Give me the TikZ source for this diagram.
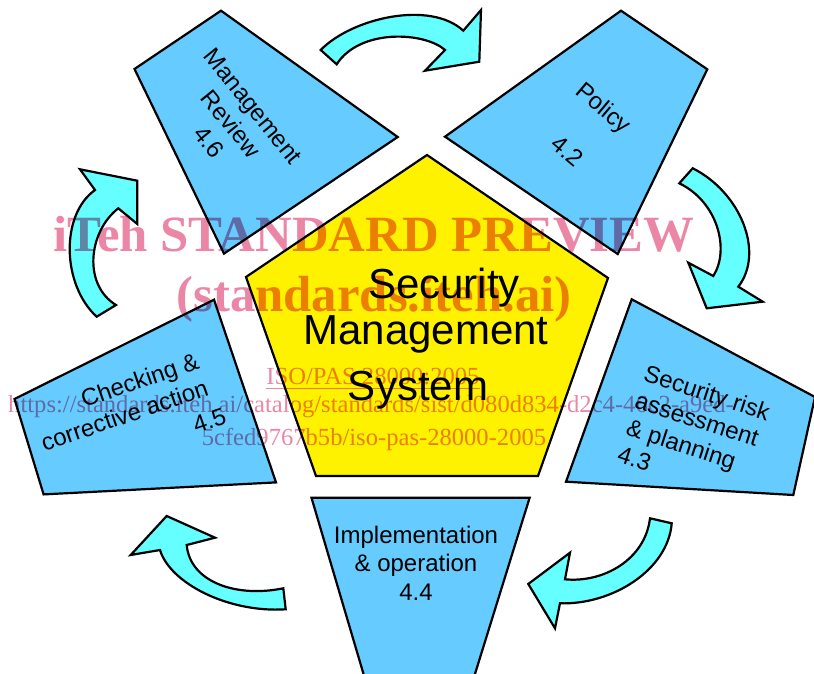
\documentclass[tikz,border=0pt]{standalone}
\usepackage{fontspec}
\setmainfont{Liberation Sans}
\newfontfamily\wmfont{Liberation Serif}
\usepackage{tikz}
\usetikzlibrary{arrows,positioning}
\definecolor{boxblue}{RGB}{102,204,255}
\definecolor{ringcyan}{RGB}{102,255,255}
\definecolor{wmpink}{RGB}{236,134,166}

\begin{document}
\begin{tikzpicture}[x=0.5pt,y=-0.5pt]
\tikzstyle{stage}=[draw=black,line width=1.1pt,fill=boxblue]
\tikzstyle{core}=[draw=black,line width=1.1pt,fill=yellow]
\tikzstyle{turn}=[draw=black,line width=1.1pt,fill=ringcyan]
\tikzstyle{every node}=[inner sep=0pt,align=center]
\tikzstyle{stagetext}=[font=\fontsize{12}{14.2}\selectfont]
\tikzstyle{coretext}=[font=\fontsize{21}{23}\selectfont]
\tikzstyle{wmbig}=[text=wmpink,anchor=base,font=\wmfont\bfseries\fontsize{25.4}{30}\selectfont]
\tikzstyle{wmsmall}=[text=wmpink,anchor=base,font=\wmfont\fontsize{12.3}{15}\selectfont]

\useasboundingbox (0,0) rectangle (814,674);
\clip (0,0) rectangle (814,674);

\draw[core] (427,155) -- (608,278) -- (538,476) -- (316,476) -- (246,277) -- cycle;
\draw[stage] (134.5,69) -- (221,10.7) -- (397.7,137) -- (224,253.6) -- cycle;
\draw[stage] (445,136.7) -- (621,10.7) -- (707.3,69.3) -- (617.7,254) -- cycle;
\draw[stage] (631.7,299.3) -- (815,397) -- (793.3,495) -- (566,481.7) -- cycle;
\draw[stage] (311.5,497.8) -- (529.6,497.8) -- (466.9,700) -- (371.2,700) -- cycle;
\draw[stage] (14.5,399) -- (214,299.7) -- (276,482.4) -- (43.6,494.4) -- cycle;

\draw[turn] (320.7,50) .. controls (352,18) and (430,0) .. (463.3,30.7) -- (481,10) -- (479.3,61.7)
  -- (425,70.7) -- (445,50) .. controls (425,32) and (360,28) .. (336.7,64.3) -- cycle;
\draw[turn] (692.7,168.3) .. controls (740,192) and (765,252) .. (738.3,286.7) -- (762.7,301.7) -- (706.7,308.3)
  -- (688.3,262.7) -- (713.3,276) .. controls (730,250) and (718,202) .. (679.3,183.3) -- cycle;
\draw[turn] (671.7,523.3) .. controls (668,570) and (612,605) .. (560,603.3) -- (555,628.3) -- (528.3,584)
  -- (570,552.7) -- (565,579.3) .. controls (603,583) and (645,560) .. (650,518.3) -- cycle;
\draw[turn] (285.7,609.3) .. controls (228,613) and (170,583) .. (160,550) -- (130.7,555) -- (166.7,516)
  -- (215,537.7) -- (186.7,545) .. controls (190,582) and (236,598) .. (283.3,588.3) -- cycle;
\draw[turn] (96.7,316.7) .. controls (62,285) and (60,215) .. (95,190) -- (80,169.3) -- (137.3,180.7)
  -- (137.3,224) -- (118.3,208.3) .. controls (88,232) and (83,285) .. (116,305) -- cycle;

\node[coretext] (sms) at (426,339) {\hspace*{18pt}Security\\Management\\[5pt]System\hspace*{8pt}};
\node[stagetext,rotate=-51] (review) at (231,124) {Management\\Review\\4.6};
\node[stagetext,rotate=-40] (policy) at (586,129) {Policy\\[14.2pt]4.2};
\node[stagetext,rotate=-18,align=left] (risk) at (694,433) {Security risk\\assessment\\\& planning\\4.3};
\node[stagetext] (impl) at (416,563) {Implementation\\\& operation\\4.4};
\node[stagetext,rotate=19,align=right] (check) at (125,417) {Checking \&\\corrective action\\[2pt]4.5\hspace*{-4pt}};

\begin{scope}[blend mode=multiply]
\node[wmbig] (wmtitle) at (374,251.5) {iTeh STANDARD PREVIEW};
\node[wmbig] (wmsite) at (374,311.7) {(standards.iteh.ai)};
\node[wmsmall] (wmiso) at (373,384.8) {\underline{ISO/PAS 28000:2005}};
\node[wmsmall] (wmurla) at (371,412.7) {https://standards.iteh.ai/catalog/standards/sist/d080d834-d2c4-46c2-a9ed-};
\node[wmsmall] (wmurlb) at (374,445) {5cfed9767b5b/iso-pas-28000-2005};
\end{scope}
\end{tikzpicture}
\end{document}
